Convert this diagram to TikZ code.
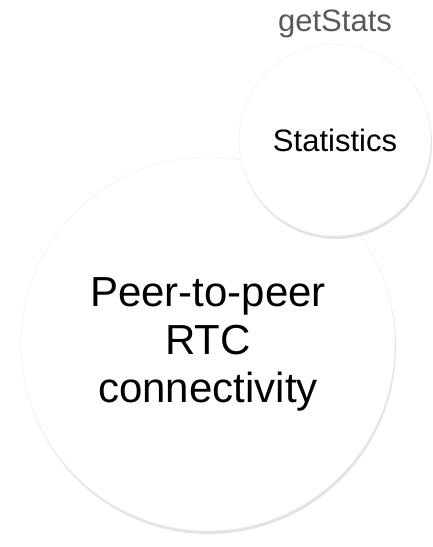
\documentclass[tikz,border=0pt]{standalone}
\usepackage{fontspec}
\setmainfont{Liberation Sans}
\usetikzlibrary{shadows}
\tikzset{
    bubble/.style={
    circle,draw=black!8,fill=white,inner sep=0pt,align=center,
    drop shadow={opacity=0.22,shadow xshift=1pt,shadow yshift=-3pt}
    },
    caption/.style={
    text=black!65,font=\fontsize{31}{35}\selectfont
    },
}

\begin{document}
\begin{tikzpicture}[x=1pt, y=-1pt]
   \useasboundingbox (0,0) rectangle (433,547);
   \node[bubble,minimum size=374pt,font=\fontsize{42}{48}\selectfont] (p2p) at (208,344) {Peer-to-peer\\RTC\\connectivity};
   \node[bubble,minimum size=192pt,font=\fontsize{31}{35}\selectfont] (stats) at (335,140) {Statistics};
   \node[caption,anchor=base] (get) at (335,31) {getStats};
\end{tikzpicture}
\end{document}
